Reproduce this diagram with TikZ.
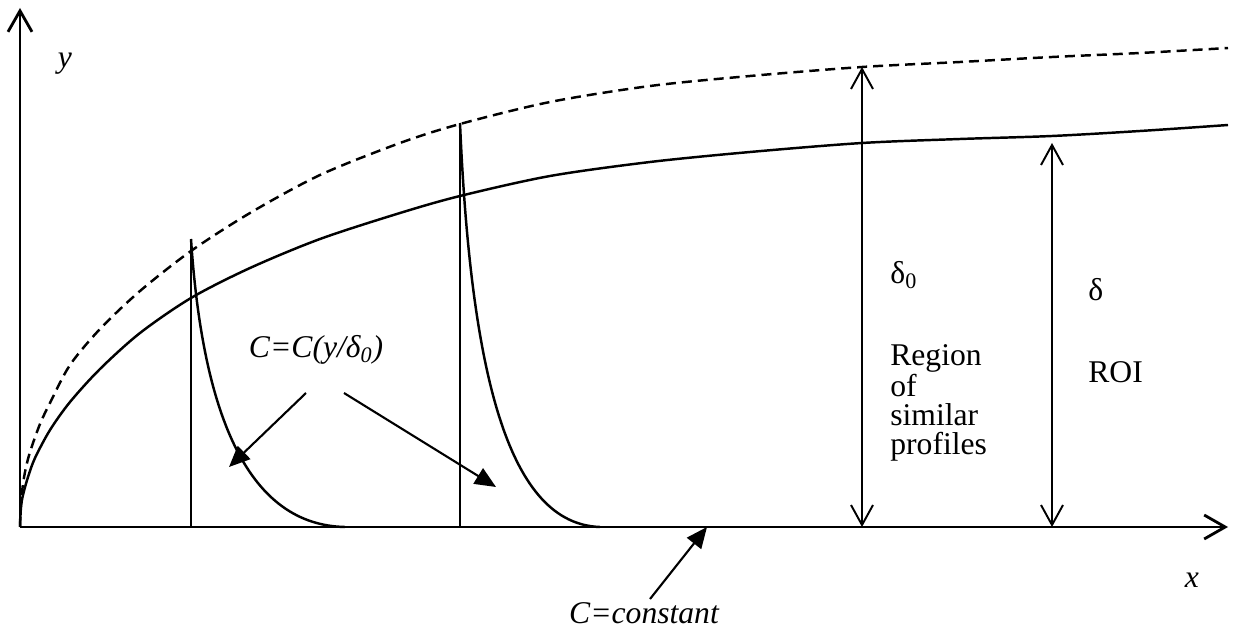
\documentclass[tikz,border=0pt]{standalone}
\usepackage{fontspec}
\setmainfont{Liberation Serif}
\usetikzlibrary{arrows.meta,positioning}

\tikzset{
  axisline/.style={line width=1.6pt, -{Straight Barb[length=0.42cm, width=0.48cm]}},
  dimline/.style={line width=1.1pt, {Straight Barb[length=0.4cm, width=0.44cm]}-{Straight Barb[length=0.4cm, width=0.44cm]}},
  pointer/.style={line width=1.2pt, -{Triangle[length=0.42cm, width=0.36cm]}},
  layer/.style={line width=1.4pt},
  station/.style={line width=0.9pt},
}

\begin{document}
\begin{tikzpicture}[x=0.02cm, y=-0.02cm, every node/.style={font=\fontsize{18}{16.5}\selectfont, inner sep=0pt}]
    \useasboundingbox (0,0) rectangle (1247,631);
    % axes
    \coordinate (o) at (20,527);
    \coordinate (ytop) at (20,8);
    \coordinate (xend) at (1228,527);
    \draw[axisline] (o) -- (ytop);
    \draw[axisline] (o) -- (xend);
    \node (ylab) at (65,64) {\itshape y};
    \node (xlab) at (1192,580) {\itshape x};

    % outer edge (dashed) and inner edge (solid)
    \draw[layer, dash pattern=on 0.2cm off 0.12cm] plot[smooth] coordinates {
        (20,527) (20.5,512) (22,492) (25,472) (30,452) (40,424) (50,403) (70,365)
        (100,329) (140,291) (191,251) (250,213) (320,175) (400,143) (460,124)
        (550,102) (650,86) (750,76) (862,67) (960,62) (1052,57) (1140,53) (1228,48)};
    \draw[layer] plot[smooth] coordinates {
        (20,527) (21,507) (23,495) (28,477) (35,458) (50,430) (70,402) (100,369)
        (140,333) (191,298) (250,268) (320,239) (400,213) (460,196) (550,176)
        (650,162) (750,152) (862,143) (960,139) (1052,136) (1140,131) (1228,125)};

    % two profiles
    \coordinate (s1top) at (191,239);
    \coordinate (s1bot) at (191,527);
    \coordinate (s1end) at (345,527);
    \coordinate (s2top) at (460,123);
    \coordinate (s2bot) at (460,527);
    \coordinate (s2end) at (600,527);
    \draw[station] (s1top) -- (s1bot);
    \draw[station] (s2top) -- (s2bot);
    \draw[layer] (s1top) .. controls (203,420) and (250,525) .. (s1end);
    \draw[layer] (s2top) .. controls (471,380) and (510,524) .. (s2end);

    % labels with pointers
    \node (prof) at (316,350) {\itshape C=C(y/δ\textsubscript{0})};
    \coordinate (pa) at (306,393);
    \coordinate (pb) at (344,393);
    \coordinate (ta) at (229,467);
    \coordinate (tb) at (496,487);
    \draw[pointer] (pa) -- (ta);
    \draw[pointer] (pb) -- (tb);

    \node (const) at (644,613) {\itshape C=constant};
    \coordinate (pc) at ([xshift=0.12cm, yshift=0.06cm]const.north);
    \coordinate (tc) at (707,527);
    \draw[pointer] (pc) -- (tc);

    % thicknesses
    \coordinate (d0top) at (862,67);
    \coordinate (d0bot) at (862,527);
    \coordinate (d1top) at (1052,143);
    \coordinate (d1bot) at (1052,527);
    \draw[dimline] (d0top) -- (d0bot);
    \draw[dimline] (d1top) -- (d1bot);

    \node[anchor=west] (del0) at (890,275) {δ\textsubscript{0}};
    \node[anchor=north west, align=left] (roi0) at (890,344) {Region\\of\\similar\\profiles};
    \node[anchor=west] (del) at (1088,290) {δ};
    \node[anchor=west] (roi) at (1088,372) {ROI};
\end{tikzpicture}
\end{document}
